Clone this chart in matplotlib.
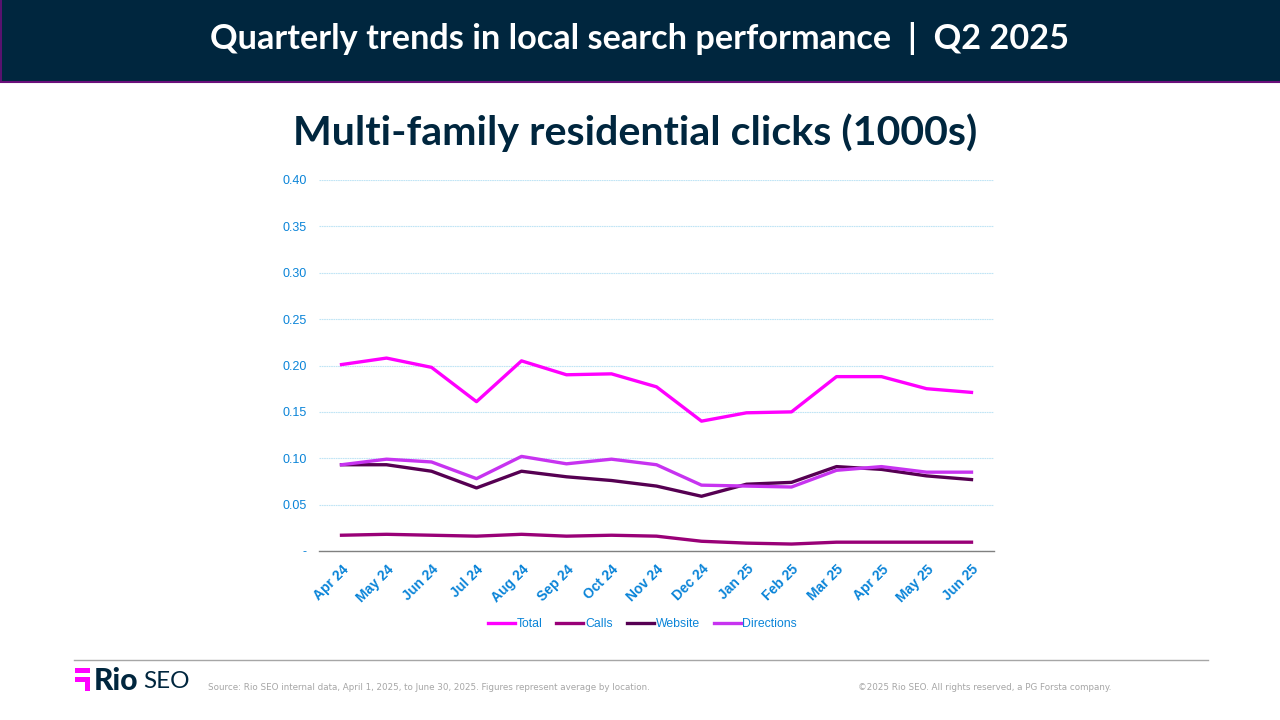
import matplotlib
matplotlib.use("Agg")
import matplotlib.pyplot as plt
from matplotlib.patches import Rectangle
from matplotlib.transforms import ScaledTranslation

months = ["Apr 24", "May 24", "Jun 24", "Jul 24", "Aug 24", "Sep 24", "Oct 24", "Nov 24",
          "Dec 24", "Jan 25", "Feb 25", "Mar 25", "Apr 25", "May 25", "Jun 25"]
total = [0.201, 0.208, 0.198, 0.161, 0.205, 0.190, 0.191, 0.177, 0.140, 0.149, 0.150, 0.188, 0.188, 0.175, 0.171]
calls = [0.017, 0.018, 0.017, 0.016, 0.018, 0.016, 0.017, 0.016, 0.0105, 0.0085, 0.0075, 0.0095, 0.0095, 0.0095, 0.0095]
website = [0.093, 0.093, 0.086, 0.068, 0.086, 0.080, 0.076, 0.070, 0.059, 0.072, 0.074, 0.091, 0.088, 0.081, 0.077]
directions = [0.093, 0.099, 0.096, 0.078, 0.102, 0.094, 0.099, 0.093, 0.071, 0.070, 0.069, 0.087, 0.091, 0.085, 0.085]
yticks = [0, 0.05, 0.10, 0.15, 0.20, 0.25, 0.30, 0.35, 0.40]
ylabels = ["-", "0.05", "0.10", "0.15", "0.20", "0.25", "0.30", "0.35", "0.40"]

W, H = 1280, 720
navy = "#00263e"
blue = "#0a84d8"
magenta = "#ff00ff"

fig = plt.figure(figsize=(W / 100, H / 100), dpi=100, facecolor="white")

# full figure overlay in pixel coordinates for the banner and footer
bg = fig.add_axes([0, 0, 1, 1])
bg.set_xlim(0, W)
bg.set_ylim(H, 0)
bg.axis("off")
bg.add_patch(Rectangle((0, 0), W, 82, fc=navy, ec="none"))
bg.plot([0.5, 0.5], [0, 82], color="#6a0f7a", lw=1.2)
bg.plot([0, W], [82, 82], color="#6a0f7a", lw=1.5)
bg.text(640, 38.5, "Quarterly trends in local search performance  |  Q2 2025", color="white",
        fontsize=24.7, fontweight="bold", family="Lato", ha="center", va="center")
bg.text(635, 133, "Multi-family residential clicks (1000s)", color="#00263e",
        fontsize=29.6, fontweight="bold", family="Lato", ha="center", va="center")

# footer
bg.plot([74, 1208], [659.5, 659.5], color="#a6a6a6", lw=1)
bg.add_patch(Rectangle((75, 668), 15, 5, fc=magenta, ec="none"))
bg.add_patch(Rectangle((75, 677), 15, 5, fc=magenta, ec="none"))
bg.add_patch(Rectangle((85, 677), 5, 14, fc=magenta, ec="none"))
bg.text(94, 681.5, "Rio", color=navy, fontsize=21.5, fontweight="black", family="Lato", ha="left", va="center")
bg.text(143, 682, "SEO", color=navy, fontsize=17.5, family="Lato", ha="left", va="center")
bg.text(208, 687, "Source: Rio SEO internal data, April 1, 2025, to June 30, 2025. Figures represent average by location.",
        color="#a6a6a6", fontsize=6.3, family="DejaVu Sans", ha="left", va="center")
bg.text(858, 687, "©2025 Rio SEO. All rights reserved, a PG Forsta company.",
        color="#a6a6a6", fontsize=6.3, family="DejaVu Sans", ha="left", va="center")

# chart, placed so the plot box sits at x 319-994, y 180-551
ax = fig.add_axes([319 / W, 1 - 551 / H, 675 / W, 371 / H])
x = range(len(months))
ax.plot(x, total, color=magenta, lw=2.4, label="Total")
ax.plot(x, calls, color="#990077", lw=2.4, label="Calls")
ax.plot(x, website, color="#560052", lw=2.4, label="Website")
ax.plot(x, directions, color="#c733f0", lw=2.4, label="Directions")

ax.set_xlim(-0.5, 14.5)
ax.set_ylim(0, 0.40)
ax.set_yticks(yticks)
ax.set_yticklabels(ylabels, fontsize=9, color=blue, family="Liberation Sans")
ax.set_xticks(list(x))
ax.set_xticklabels(months, rotation=45, ha="right", va="top", rotation_mode="anchor",
                   fontsize=10, fontweight="bold", color=blue, family="Liberation Sans")
shift = ScaledTranslation(-2.5 / 100, 0, fig.dpi_scale_trans)
for lab in ax.get_xticklabels():
    lab.set_transform(lab.get_transform() + shift)
ax.tick_params(axis="both", length=0)
ax.tick_params(axis="y", pad=9)
ax.tick_params(axis="x", pad=8)
ax.grid(axis="y", color="#bfe4f5", lw=0.8, ls=(0, (1.5, 0.6)))
ax.set_axisbelow(True)
for s in ["top", "left", "right"]:
    ax.spines[s].set_visible(False)
ax.spines["bottom"].set_color("#808080")
ax.spines["bottom"].set_linewidth(1)

leg = ax.legend(loc="center", bbox_to_anchor=(642.5 / W, 1 - 624 / H), bbox_transform=fig.transFigure,
                ncol=4, frameon=False, handlelength=2.2, handletextpad=0.15, columnspacing=1.15,
                prop={"family": "Liberation Sans", "size": 8.8})
for t in leg.get_texts():
    t.set_color(blue)

plt.savefig("out.png", dpi=100)
